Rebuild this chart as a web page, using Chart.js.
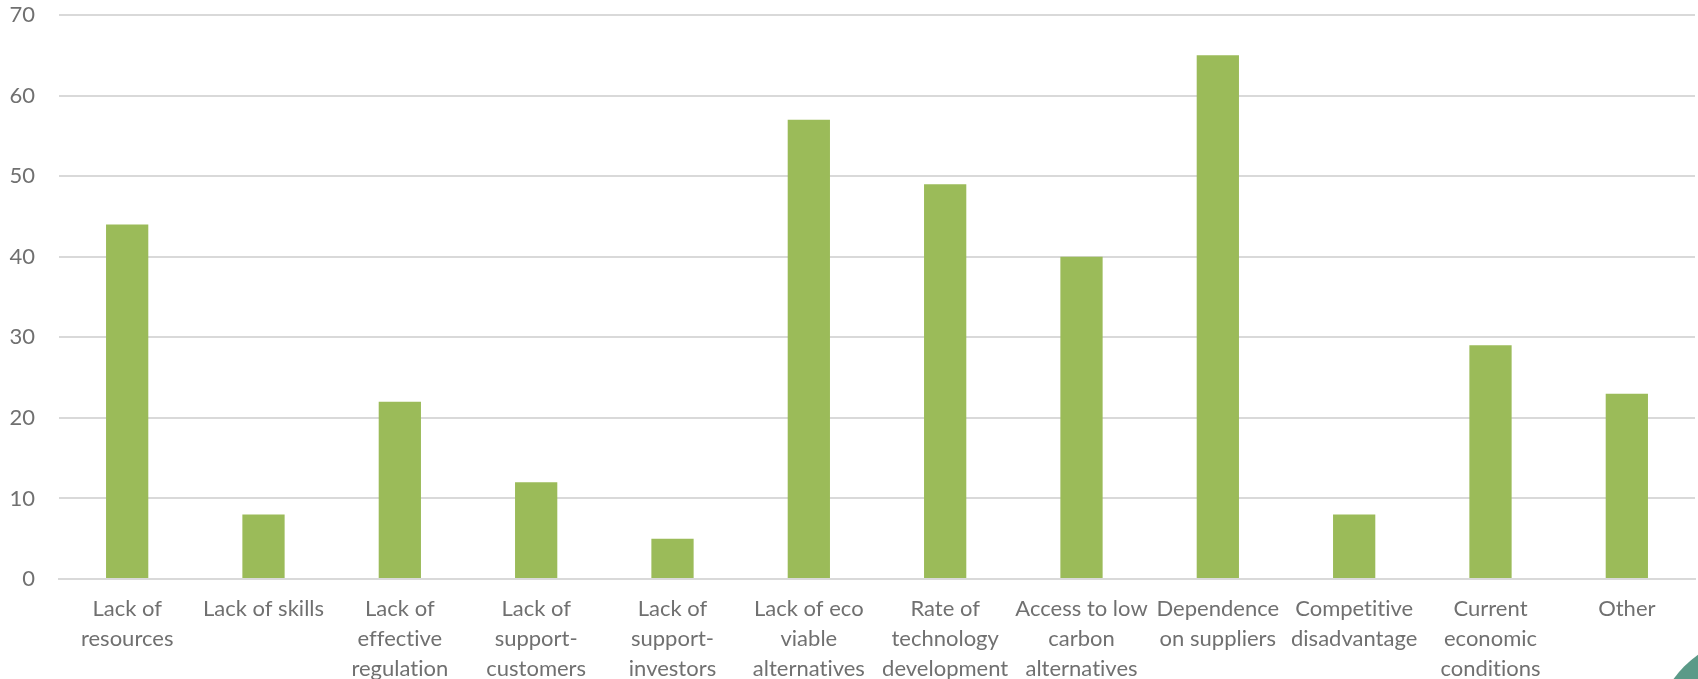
<!DOCTYPE html>
<html>
<head>
<meta charset="utf-8">
<script src="https://cdn.jsdelivr.net/npm/chart.js@4"></script>
<style>
html,body{margin:0;padding:0;background:#fff;overflow:hidden;}
#wrap{width:1698px;height:679px;position:relative;}
</style>
</head>
<body>
<div id="wrap"><canvas id="c" width="1698" height="679"></canvas></div>
<script>
const categories = [
  ["Lack of", "resources"],
  ["Lack of skills"],
  ["Lack of", "effective", "regulation"],
  ["Lack of", "support-", "customers"],
  ["Lack of", "support-", "investors"],
  ["Lack of eco", "viable", "alternatives"],
  ["Rate of", "technology", "development"],
  ["Access to low", "carbon", "alternatives"],
  ["Dependence", "on suppliers"],
  ["Competitive", "disadvantage"],
  ["Current", "economic", "conditions"],
  ["Other"]
];
const values = [44, 8, 22, 12, 5, 57, 49, 40, 65, 8, 29, 23];
const yTicks = [0, 10, 20, 30, 40, 50, 60, 70];

const decor = {
  id: 'decor',
  beforeDraw(chart) {
    try { chart.ctx.letterSpacing = '0.01px'; } catch (e) {}
  },
  afterDraw(chart) {
    const ctx = chart.ctx;
    ctx.save();
    ctx.fillStyle = '#5b9a88';
    ctx.beginPath();
    ctx.arc(1760, 742, 107, 0, Math.PI * 2);
    ctx.fill();
    ctx.restore();
  }
};

new Chart(document.getElementById('c'), {
  type: 'bar',
  data: {
    labels: categories,
    datasets: [{
      data: values,
      backgroundColor: '#9bbb59',
      borderWidth: 0,
      categoryPercentage: 1,
      barPercentage: 0.31
    }]
  },
  options: {
    responsive: false,
    animation: false,
    devicePixelRatio: 1,
    layout: { padding: { top: 15, right: 3, left: 0, bottom: 0 } },
    plugins: { legend: { display: false }, tooltip: { enabled: false } },
    scales: {
      x: {
        grid: { display: false, drawTicks: false },
        border: { display: true, color: '#d9d9d9', width: 2 },
        ticks: {
          color: '#707070',
          font: { family: 'Lato', size: 22, lineHeight: 1.36 },
          padding: 15,
          maxRotation: 0,
          autoSkip: false
        },
        afterFit(scale) { scale.height = 100; scale.paddingLeft = 0; scale.paddingRight = 0; }
      },
      y: {
        min: 0,
        max: 70,
        afterBuildTicks(scale) { scale.ticks = yTicks.map(v => ({ value: v })); },
        grid: { color: '#d9d9d9', lineWidth: 2, drawTicks: false },
        border: { display: false },
        ticks: {
          color: '#707070',
          font: { family: 'Lato', size: 22 },
          padding: 24
        },
        afterFit(scale) { scale.width = 59; scale.paddingTop = 0; scale.paddingBottom = 0; }
      }
    }
  },
  plugins: [decor]
});
</script>
</body>
</html>
